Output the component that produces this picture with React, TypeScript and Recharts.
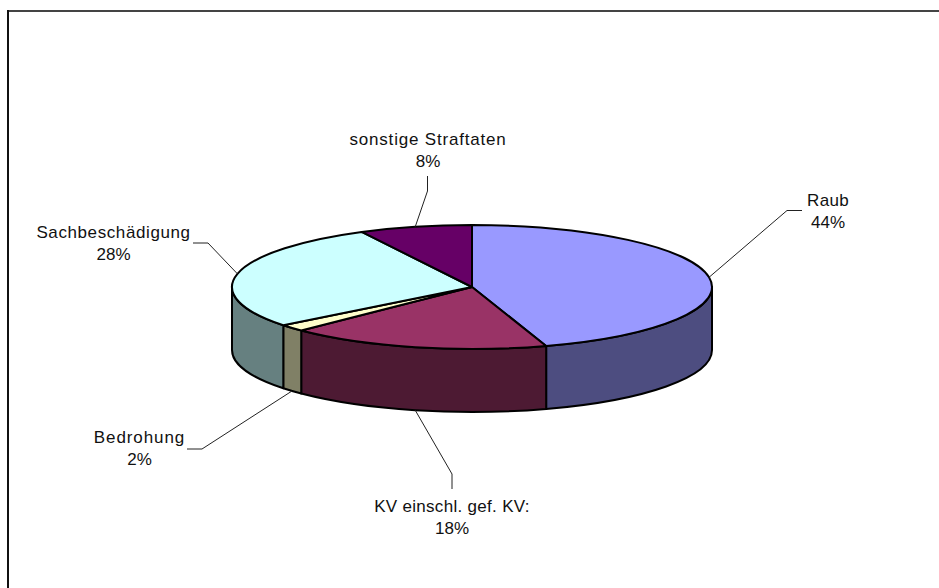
import React from "react";
import { PieChart, Pie, Cell } from "recharts";

const categories = ["Raub", "KV einschl. gef. KV:", "Bedrohung", "Sachbeschädigung", "sonstige Straftaten"];
const shares = [45, 17.6, 1.8, 28, 7.6];
const percentLabels = ["44%", "18%", "2%", "28%", "8%"];
const topColors = ["#9999FF", "#993366", "#FFFFCC", "#CCFFFF", "#660066"];
const wallColors = ["#4D4D80", "#4D1A33", "#808066", "#668080", "#330033"];

const W = 939;
const H = 588;
const CX = 472;
const CY = 287;
const RX = 240;
const RY = 62;
const DEPTH = 63;
const FONT = "'Liberation Sans', Arial, sans-serif";

// leader elbows and label anchors, by slice
const leaderLayout = [
  { elbow: [787, 210.5], end: [802, 210.5], tx: 828, ty: 206, ls: 0.3, wall: false },
  { elbow: [452, 474], end: [452, 489], tx: 452, ty: 512, ls: 0.3, wall: true },
  { elbow: [202, 449], end: [187, 449], tx: 139.5, ty: 443, ls: 0.9, wall: true },
  { elbow: [208, 243], end: [193, 243], tx: 113.5, ty: 238, ls: 0.6, wall: false },
  { elbow: [427.5, 191], end: [427.5, 176], tx: 428, ty: 145, ls: 0.8, wall: false },
];

const pt = (a: number, dy = 0) => {
  const r = (a * Math.PI) / 180;
  return [CX + RX * Math.cos(r), CY - RY * Math.sin(r) + dy];
};

const SliceShape = (props: any) => {
  const { startAngle, endAngle, index } = props;
  const s = Math.max(startAngle, endAngle);
  const e = Math.min(startAngle, endAngle);
  const [x1, y1] = pt(s);
  const [x2, y2] = pt(e);
  const large = s - e > 180 ? 1 : 0;
  const top = `M${CX},${CY} L${x1},${y1} A${RX},${RY} 0 ${large} 1 ${x2},${y2} Z`;
  const ws = Math.min(s, 0);
  const we = Math.max(e, -180);
  let wall = null;
  if (ws > we) {
    const [a1, b1] = pt(ws);
    const [a2, b2] = pt(we);
    const d = `M${a1},${b1} A${RX},${RY} 0 0 1 ${a2},${b2} L${a2},${b2 + DEPTH} A${RX},${RY} 0 0 0 ${a1},${b1 + DEPTH} Z`;
    wall = <path d={d} fill={wallColors[index]} stroke="#000" strokeWidth={2} strokeLinejoin="round" />;
  }
  return (
    <g>
      {wall}
      <path d={top} fill={topColors[index]} stroke="#000" strokeWidth={2} strokeLinejoin="round" />
    </g>
  );
};

const SliceLabel = (props: any) => {
  const { midAngle, index } = props;
  const l = leaderLayout[index];
  const [x, y] = pt(midAngle, l.wall ? DEPTH : 0);
  return (
    <g>
      <polyline
        points={`${x},${y} ${l.elbow[0]},${l.elbow[1]} ${l.end[0]},${l.end[1]}`}
        fill="none"
        stroke="#222"
        strokeWidth={1}
      />
      <text x={l.tx} y={l.ty} textAnchor="middle" fontFamily={FONT} fontSize={17} letterSpacing={l.ls} fill="#111">
        {categories[index]}
      </text>
      <text x={l.tx} y={l.ty + 21.5} textAnchor="middle" fontFamily={FONT} fontSize={17} fill="#111">
        {percentLabels[index]}
      </text>
    </g>
  );
};

const chartData = categories.map((name, i) => ({ name, value: shares[i] }));

export default function App() {
  return (
    <div style={{ position: "absolute", left: 0, top: 0, width: W, height: H, background: "#fff", overflow: "hidden" }}>
      <div style={{ position: "absolute", left: 7, top: 10, width: W - 7, height: 2, background: "#444" }} />
      <div style={{ position: "absolute", left: 7, top: 10, width: 1.5, height: H - 10, background: "#111" }} />
      <PieChart width={W} height={H} margin={{ top: 0, right: 0, bottom: 0, left: 0 }} style={{ position: "absolute", left: 0, top: 0 }}>
        <Pie
          data={chartData}
          dataKey="value"
          nameKey="name"
          cx={CX}
          cy={CY}
          outerRadius={RX}
          startAngle={90}
          endAngle={-270}
          paddingAngle={0}
          isAnimationActive={false}
          shape={SliceShape}
          label={SliceLabel}
          labelLine={false}
        >
          {chartData.map((d, i) => (
            <Cell key={d.name} fill={topColors[i]} />
          ))}
        </Pie>
      </PieChart>
    </div>
  );
}
